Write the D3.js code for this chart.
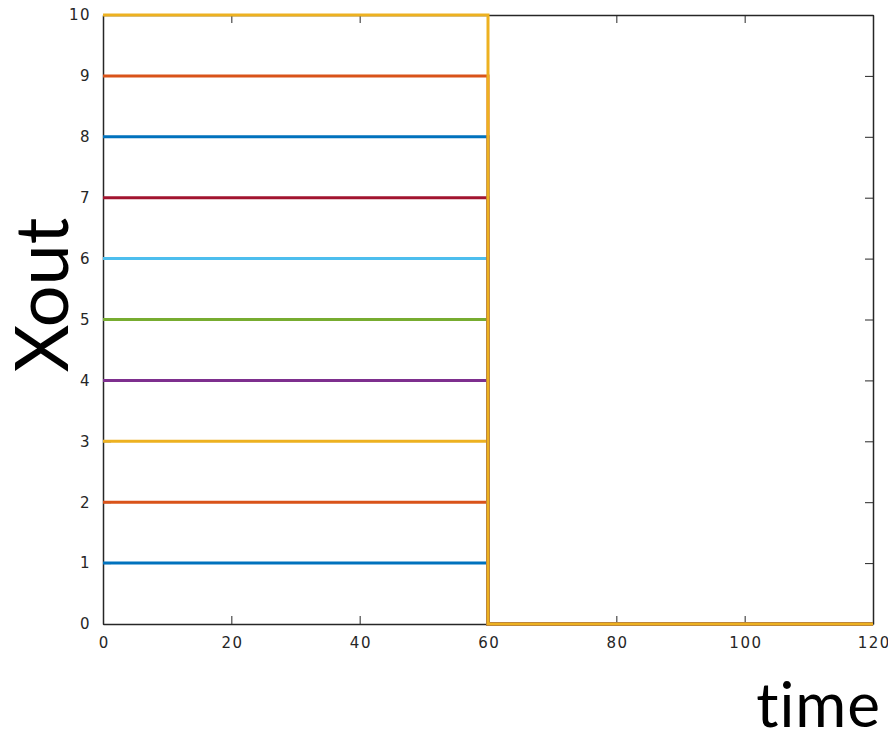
<!DOCTYPE html>
<html>
<head>
<meta charset="utf-8">
<script src="https://cdn.jsdelivr.net/npm/d3@7"></script>
<style>
  body { margin: 0; background: #fff; }
  svg { display: block; }
</style>
</head>
<body>
<svg id="chart" width="888" height="738"></svg>
<script>
// Sample times: each signal holds its level until t = 60, then drops to zero.
const times = [0, 60, 60, 120];
// Level held by each of the ten signals before the drop.
const levels = [1, 2, 3, 4, 5, 6, 7, 8, 9, 10];
const seriesValues = levels.map(v => [v, v, 0, 0]);
const xTicks = [0, 20, 40, 60, 80, 100, 120];
const yTicks = [0, 1, 2, 3, 4, 5, 6, 7, 8, 9, 10];
const palette = ["#0072BD", "#D95319", "#EDB120", "#7E2F8E", "#77AC30",
                 "#4DBEEE", "#A2142F", "#0072BD", "#D95319", "#EDB120"];

const svg = d3.select("#chart");
const m = { left: 103, right: 873, top: 15, bottom: 624 };

const x = d3.scaleLinear().domain([0, 120]).range([m.left, m.right]);
const y = d3.scaleLinear().domain([0, 10]).range([m.bottom, m.top]);

const axisColor = "#262626";
const tickLen = 8;

// Axes with inward ticks on all four sides
const axisStyle = g => {
  g.select(".domain").attr("stroke", axisColor).attr("stroke-width", 1.5);
  g.selectAll(".tick line").attr("stroke", axisColor).attr("stroke-width", 1);
  g.selectAll(".tick text")
    .attr("fill", "#262626")
    .style("font-family", "DejaVu Sans")
    .style("font-size", "15px")
    .style("letter-spacing", "1.5px");
};

svg.append("g")
  .attr("transform", `translate(0,${m.bottom})`)
  .call(d3.axisBottom(x).tickValues(xTicks).tickSize(-tickLen).tickPadding(13).tickSizeOuter(0))
  .call(axisStyle)
  .selectAll(".tick text").attr("dx", "0.05em");

svg.append("g")
  .attr("transform", `translate(0,${m.top})`)
  .call(d3.axisTop(x).tickValues(xTicks).tickSize(-tickLen).tickFormat("").tickSizeOuter(0))
  .call(axisStyle);

svg.append("g")
  .attr("transform", `translate(${m.left},0)`)
  .call(d3.axisLeft(y).tickValues(yTicks).tickSize(-tickLen).tickPadding(12).tickSizeOuter(0))
  .call(axisStyle);

svg.append("g")
  .attr("transform", `translate(${m.right},0)`)
  .call(d3.axisRight(y).tickValues(yTicks).tickSize(-tickLen).tickFormat("").tickSizeOuter(0))
  .call(axisStyle);

// Signal traces
const line = d3.line()
  .x((d, i) => x(times[i]))
  .y(d => y(d));

svg.append("g")
  .selectAll("path")
  .data(seriesValues)
  .join("path")
  .attr("d", line)
  .attr("fill", "none")
  .attr("stroke", (d, i) => palette[i])
  .attr("stroke-width", 3);

// Axis titles
svg.append("text")
  .attr("transform", "translate(68,295) rotate(-90)")
  .attr("text-anchor", "middle")
  .style("font-family", "Lato")
  .style("font-size", "74px")
  .style("font-variant-ligatures", "none")
  .attr("fill", "#000")
  .text("Xout");

svg.append("text")
  .attr("x", 881)
  .attr("y", 727)
  .attr("text-anchor", "end")
  .style("font-family", "Lato")
  .style("font-size", "62px")
  .style("font-variant-ligatures", "none")
  .style("letter-spacing", "1px")
  .attr("fill", "#000")
  .text("time");
</script>
</body>
</html>
